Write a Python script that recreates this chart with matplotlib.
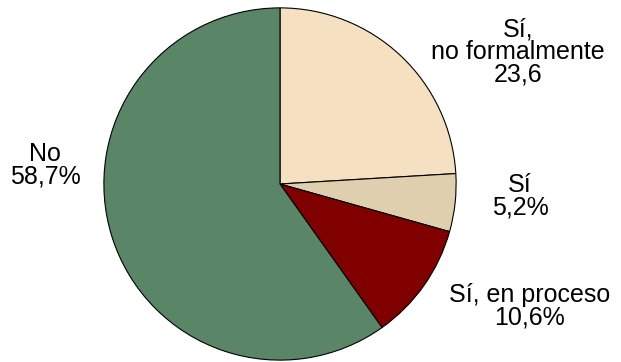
import matplotlib
matplotlib.use("Agg")
import matplotlib.pyplot as plt

categories = ["Sí,\nno formalmente", "Sí", "Sí, en proceso", "No"]
values = [23.6, 5.2, 10.6, 58.7]
value_labels = ["23,6", "5,2%", "10,6%", "58,7%"]
colors = ["#F5E1C2", "#E0CFAE", "#800000", "#5A8566"]

plt.rcParams['font.family'] = ['Liberation Sans', 'DejaVu Sans']

W, H = 621, 362
fig = plt.figure(figsize=(W / 100, H / 100), dpi=100)
cx, cy, r = 280, 184, 177
ax = fig.add_axes([(cx - r) / W, (H - cy - r) / H, 2 * r / W, 2 * r / H])
ax.pie(values, colors=colors, startangle=90, counterclock=False, radius=1,
       wedgeprops=dict(edgecolor="black", linewidth=0.8))
ax.set_xlim(-1.005, 1.005)
ax.set_ylim(-1.005, 1.005)
ax.set_aspect("equal")
ax.axis("off")

label_pos = [(518, 52), (520, 196), (530, 306), (45, 165)]
for cat, vl, (px, py) in zip(categories, value_labels, label_pos):
    fig.text(px / W, 1 - py / H, f"{cat}\n{vl}", ha="center", va="center",
             fontsize=18, linespacing=0.93, color="black")

fig.savefig("out.png", dpi=100)
